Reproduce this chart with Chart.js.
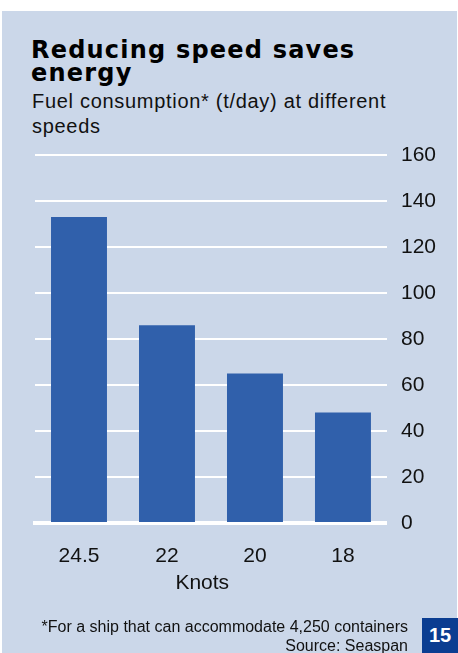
<!DOCTYPE html>
<html>
<head>
<meta charset="utf-8">
<title>Reducing speed saves energy</title>
<script src="https://cdn.jsdelivr.net/npm/chart.js@4/dist/chart.umd.min.js"></script>
<style>
  html, body { margin: 0; padding: 0; background: #fff; }
  body { width: 458px; height: 653px; position: relative; overflow: hidden; font-family: "Liberation Sans", Arial, sans-serif; color: #111; }
  .panel { position: absolute; left: 2px; top: 11px; width: 455px; height: 642px; background: #cbd7e9; }
  .headline { position: absolute; left: 31px; top: 39px; font-family: "DejaVu Sans", sans-serif; font-weight: bold; font-size: 24px; line-height: 23px; letter-spacing: 1.2px; color: #000; }
  .subhead { position: absolute; left: 32px; top: 89px; font-size: 20px; line-height: 25px; letter-spacing: 0.7px; }
  .note { position: absolute; right: 50px; top: 617px; font-size: 16px; line-height: 19px; text-align: right; }
  .pageno { position: absolute; left: 422px; top: 618px; width: 36px; height: 35px; background: #0b3d91; color: #fff; font-weight: bold; font-size: 20px; line-height: 35px; text-align: center; }
  #chart { position: absolute; left: 0; top: 0; }
</style>
</head>
<body>
<div class="panel"></div>
<div class="headline">Reducing speed saves<br>energy</div>
<div class="subhead">Fuel consumption* (t/day) at different<br>speeds</div>
<canvas id="chart" width="458" height="653"></canvas>
<div class="note">*For a ship that can accommodate 4,250 containers<br>Source: Seaspan</div>
<div class="pageno">15</div>
<script>
(function() {
    'use strict';

    // speeds in knots and daily fuel use (tonnes)
    const knots = ['24.5', '22', '20', '18'];
    const fuelPerDay = [133, 86, 65, 48];
    const fuelTicks = [0, 20, 40, 60, 80, 100, 120, 140, 160];

    const ink = '#111';
    const barBlue = '#3060ab';

    Chart.defaults.font.family = '"Liberation Sans", Arial, sans-serif';

    // note: chart.js counts ticks.padding twice when sizing an axis
    new Chart(document.getElementById('chart'), {
        type: 'bar',
        data: {
            labels: knots,
            datasets: [{
                label: 'Fuel consumption (t/day)',
                data: fuelPerDay,
                backgroundColor: barBlue,
                borderWidth: 0,
                barPercentage: 0.636,
                categoryPercentage: 1
            }]
        },
        options: {
            responsive: false,
            animation: false,
            devicePixelRatio: 1,
            layout: {
                padding: { left: 35, right: 8, top: 155, bottom: 57.6 }
            },
            plugins: {
                legend: { display: false },
                tooltip: { enabled: false }
            },
            scales: {
                x: {
                    z: 1,
                    offset: true,
                    grid: { display: false, drawTicks: false, tickLength: 0 },
                    border: { display: true, color: '#fff', width: 4 },
                    ticks: { color: ink, font: { size: 21 }, padding: 20.5 },
                    title: {
                        display: true,
                        // trailing spaces pull the centred title a little left
                        text: 'Knots   ',
                        color: ink,
                        font: { size: 21 },
                        padding: { top: -19, bottom: 0 }
                    }
                },
                y: {
                    position: 'right',
                    min: 0,
                    max: 160,
                    afterBuildTicks: function(axis) {
                        axis.ticks = fuelTicks.map(v => ({ value: v }));
                    },
                    grid: {
                        drawTicks: false,
                        tickLength: 0,
                        lineWidth: 2,
                        color: ctx => (ctx.tick && ctx.tick.value === 0) ? 'rgba(0,0,0,0)' : '#fff'
                    },
                    border: { display: false },
                    ticks: { color: ink, font: { size: 21 }, padding: 14 }
                }
            }
        }
    });
})();
</script>
</body>
</html>
